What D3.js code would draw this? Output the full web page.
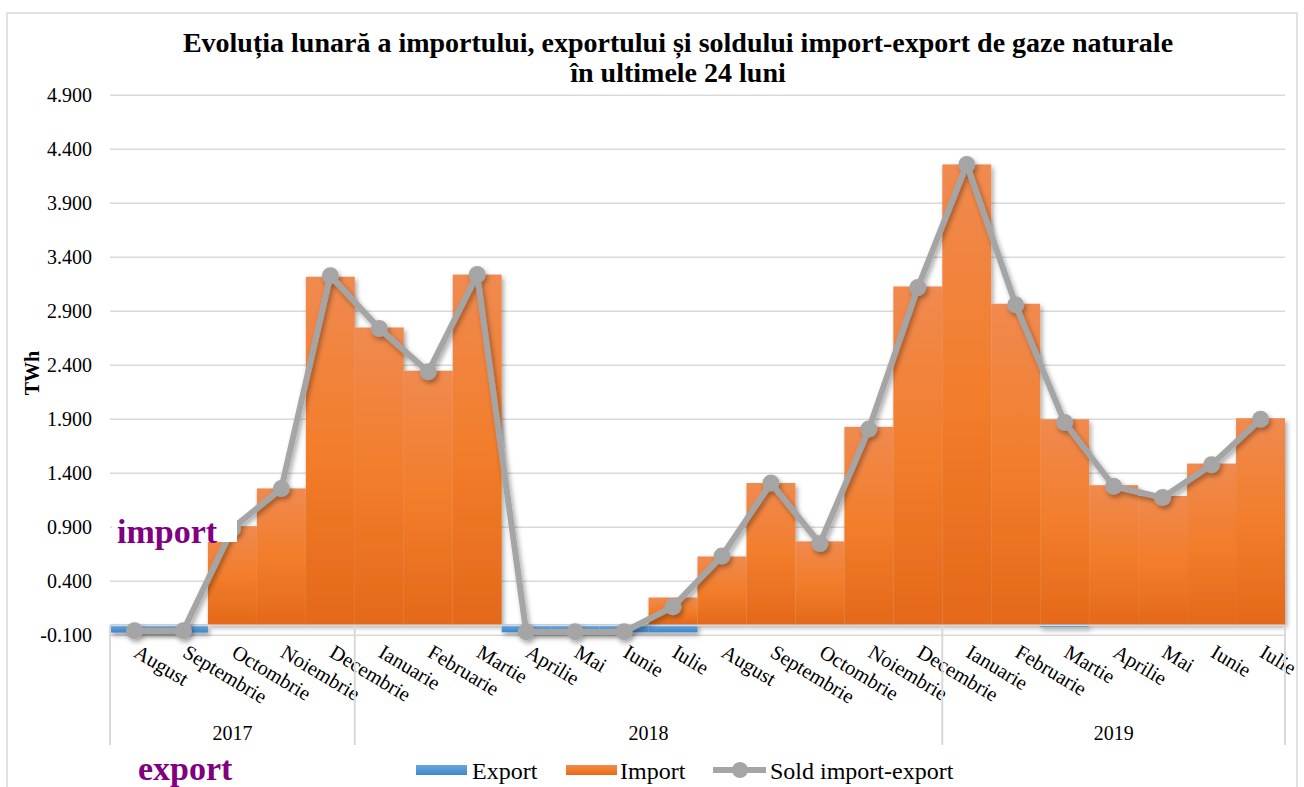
<!DOCTYPE html>
<html>
<head>
<meta charset="utf-8">
<script src="https://cdn.jsdelivr.net/npm/d3@7"></script>
<style>
  body { margin: 0; background: #fff; }
  svg { display: block; font-family: "Liberation Serif", "Times New Roman", serif; }
</style>
</head>
<body>
<script>
// months on the category axis
var months = ["August", "Septembrie", "Octombrie", "Noiembrie", "Decembrie",
  "Ianuarie", "Februarie", "Martie", "Aprilie", "Mai", "Iunie", "Iulie",
  "August", "Septembrie", "Octombrie", "Noiembrie", "Decembrie",
  "Ianuarie", "Februarie", "Martie", "Aprilie", "Mai", "Iunie", "Iulie"];

// year groups and how many months each holds
var yearLabels = ["2017", "2018", "2019"];
var yearMonths = [5, 12, 7];

// series values (TWh)
var importVals = [0, 0, 0.91, 1.26, 3.22, 2.75, 2.35, 3.24, 0, 0, 0, 0.25,
  0.63, 1.31, 0.77, 1.83, 3.13, 4.26, 2.97, 1.90, 1.29, 1.19, 1.49, 1.91];
var exportVals = [-0.075, -0.075, 0, 0, 0, 0, 0, 0, -0.072, -0.072, -0.072, -0.072,
  0, 0, 0, 0, 0, 0, 0, -0.025, 0, 0, 0, 0];
var soldVals = [-0.057, -0.057, 0.89, 1.26, 3.23, 2.74, 2.34, 3.24, -0.067, -0.067, -0.067, 0.165,
  0.635, 1.31, 0.75, 1.81, 3.12, 4.26, 2.96, 1.87, 1.28, 1.175, 1.48, 1.90];

// y tick labels
var yTicks = [-0.1, 0.4, 0.9, 1.4, 1.9, 2.4, 2.9, 3.4, 3.9, 4.4, 4.9];

var width = 1304, height = 787;

//plain hyphen for negative numbers, like the original
var fmt = d3.formatLocale({decimal: ".", thousands: ",", grouping: [3],
  currency: ["", ""], minus: "-"}).format(".3f");

var svg = d3.select("body").append("svg")
  .attr("width", width)
  .attr("height", height);

var defs = svg.append("defs");

var gOrange = defs.append("linearGradient").attr("id", "gOrange")
  .attr("x1", 0).attr("y1", 0).attr("x2", 0).attr("y2", 1);
gOrange.append("stop").attr("offset", "0%").attr("stop-color", "#f08a4f");
gOrange.append("stop").attr("offset", "50%").attr("stop-color", "#f27d2b");
gOrange.append("stop").attr("offset", "100%").attr("stop-color", "#e4691a");

var gBlue = defs.append("linearGradient").attr("id", "gBlue")
  .attr("x1", 0).attr("y1", 0).attr("x2", 0).attr("y2", 1);
gBlue.append("stop").attr("offset", "0%").attr("stop-color", "#6aa5dc");
gBlue.append("stop").attr("offset", "100%").attr("stop-color", "#3f87cb");

var shadow = defs.append("filter").attr("id", "shadow")
  .attr("x", "-10%").attr("y", "-10%").attr("width", "130%").attr("height", "130%");
shadow.append("feDropShadow")
  .attr("dx", 2).attr("dy", 3).attr("stdDeviation", 2.5)
  .attr("flood-color", "#000").attr("flood-opacity", 0.35);

//outer chart border
svg.append("rect")
  .attr("x", 7).attr("y", 13)
  .attr("width", 1290).attr("height", 800)
  .attr("fill", "none").attr("stroke", "#d9d9d9").attr("stroke-width", 1.5);

//title
var title = svg.append("text")
  .attr("text-anchor", "middle")
  .attr("font-weight", "bold")
  .attr("font-size", 28)
  .attr("fill", "#000");
title.append("tspan").attr("x", 678).attr("y", 52)
  .text("Evoluția lunară a importului, exportului și soldului import-export de gaze naturale");
title.append("tspan").attr("x", 678).attr("y", 82)
  .text("în ultimele 24 luni");

//scales
var x = d3.scaleBand()
  .domain(d3.range(months.length))
  .range([110, 1285])
  .padding(0);

var y = d3.scaleLinear()
  .domain([-0.1, 4.9])
  .range([635.3, 95.3]);

//gridlines
svg.append("g")
  .selectAll("line")
  .data(yTicks)
  .enter()
  .append("line")
  .attr("x1", 110).attr("x2", 1285)
  .attr("y1", function(d){ return y(d); })
  .attr("y2", function(d){ return y(d); })
  .attr("stroke", "#d9d9d9")
  .attr("stroke-width", 1.5);

//y axis labels
var yAxis = svg.append("g")
  .attr("transform", "translate(94,0)")
  .call(d3.axisLeft(y).tickValues(yTicks).tickSize(0).tickPadding(2)
    .tickFormat(fmt));
yAxis.select(".domain").remove();
yAxis.selectAll("text")
  .attr("font-family", "Liberation Serif, Times New Roman, serif")
  .attr("font-size", 20)
  .attr("fill", "#000");

//y axis title
svg.append("text")
  .attr("transform", "translate(39,373) rotate(-90)")
  .attr("text-anchor", "middle")
  .attr("font-weight", "bold")
  .attr("font-size", 20)
  .text("TWh");

//bars
var bars = svg.append("g").attr("filter", "url(#shadow)");

bars.selectAll(".importBar")
  .data(importVals)
  .enter()
  .append("rect")
  .attr("class", "importBar")
  .attr("x", function(d, i){ return x(i); })
  .attr("width", x.bandwidth())
  .attr("y", function(d){ return y(Math.max(d, 0)); })
  .attr("height", function(d){ return Math.abs(y(d) - y(0)); })
  .attr("fill", "url(#gOrange)");

bars.selectAll(".exportBar")
  .data(exportVals)
  .enter()
  .append("rect")
  .attr("class", "exportBar")
  .attr("x", function(d, i){ return x(i); })
  .attr("width", x.bandwidth())
  .attr("y", y(0))
  .attr("height", function(d){ return Math.abs(y(d) - y(0)); })
  .attr("fill", "url(#gBlue)");

//zero axis line
svg.append("line")
  .attr("x1", 110).attr("x2", 1285)
  .attr("y1", y(0) + 1).attr("y2", y(0) + 1)
  .attr("stroke", "#d9d9d9").attr("stroke-width", 1.5);

//sold line
var line = d3.line()
  .x(function(d, i){ return x(i) + x.bandwidth() / 2; })
  .y(function(d){ return y(d); });

var soldG = svg.append("g").attr("filter", "url(#shadow)");

soldG.append("path")
  .datum(soldVals)
  .attr("d", line)
  .attr("fill", "none")
  .attr("stroke", "#a5a5a5")
  .attr("stroke-width", 6)
  .attr("stroke-linejoin", "round");

soldG.selectAll("circle")
  .data(soldVals)
  .enter()
  .append("circle")
  .attr("cx", function(d, i){ return x(i) + x.bandwidth() / 2; })
  .attr("cy", function(d){ return y(d); })
  .attr("r", 8.5)
  .attr("fill", "#a5a5a5");

//month labels
svg.append("g")
  .selectAll("text")
  .data(months)
  .enter()
  .append("text")
  .attr("transform", function(d, i){
    return "translate(" + (x(i) + x.bandwidth() / 2 - 2) + ",656) rotate(31)";
  })
  .attr("font-size", 20.5)
  .attr("fill", "#000")
  .text(function(d){ return d; });

//year separators and labels
var bounds = [0];
yearMonths.forEach(function(n, i){ bounds.push(bounds[i] + n); });

svg.append("g")
  .selectAll("line")
  .data(bounds)
  .enter()
  .append("line")
  .attr("x1", function(d){ return d < months.length ? x(d) : x(months.length - 1) + x.bandwidth(); })
  .attr("x2", function(d){ return d < months.length ? x(d) : x(months.length - 1) + x.bandwidth(); })
  .attr("y1", y(0) + 1).attr("y2", 745)
  .attr("stroke", "#d9d9d9").attr("stroke-width", 2);

svg.append("g")
  .selectAll("text")
  .data(yearLabels)
  .enter()
  .append("text")
  .attr("x", function(d, i){
    var a = x(bounds[i]);
    var b = x(bounds[i + 1] - 1) + x.bandwidth();
    return (a + b) / 2;
  })
  .attr("y", 740)
  .attr("text-anchor", "middle")
  .attr("font-size", 20)
  .text(function(d){ return d; });

//"import" note with white box
svg.append("rect")
  .attr("x", 112).attr("y", 508)
  .attr("width", 125).attr("height", 34)
  .attr("fill", "#fff");
svg.append("text")
  .attr("x", 117).attr("y", 543)
  .attr("font-size", 34).attr("font-weight", "bold")
  .attr("fill", "#800080")
  .text("import");

//"export" note
svg.append("text")
  .attr("x", 138).attr("y", 780)
  .attr("font-size", 34).attr("font-weight", "bold")
  .attr("fill", "#800080")
  .text("export");

//legend
var legend = svg.append("g").attr("font-size", 24);

legend.append("rect").attr("x", 416).attr("y", 765).attr("width", 51).attr("height", 10)
  .attr("fill", "url(#gBlue)");
legend.append("text").attr("x", 472).attr("y", 779).text("Export");

legend.append("rect").attr("x", 566).attr("y", 765).attr("width", 51).attr("height", 10)
  .attr("fill", "url(#gOrange)");
legend.append("text").attr("x", 620).attr("y", 779).text("Import");

legend.append("line").attr("x1", 713).attr("x2", 766).attr("y1", 770).attr("y2", 770)
  .attr("stroke", "#a5a5a5").attr("stroke-width", 6);
legend.append("circle").attr("cx", 740).attr("cy", 770).attr("r", 8).attr("fill", "#a5a5a5");
legend.append("text").attr("x", 770).attr("y", 779).text("Sold import-export");
</script>
</body>
</html>
